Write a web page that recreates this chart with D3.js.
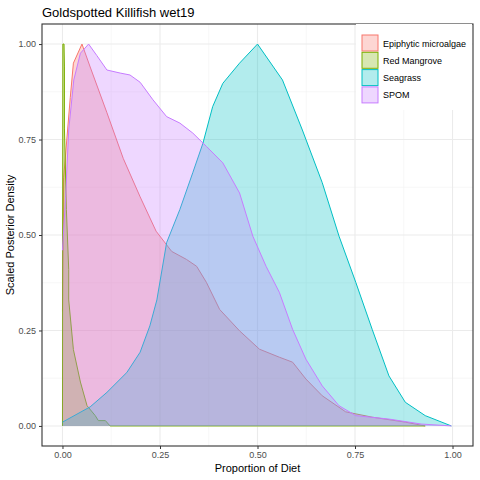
<!DOCTYPE html>
<html><head><meta charset="utf-8">
<script src="https://cdn.jsdelivr.net/npm/d3@7.9.0/dist/d3.min.js"></script>
<style>body{margin:0;background:#fff}text{font-family:"Liberation Sans",Arial,sans-serif}</style>
</head><body><svg id="chart" width="480" height="480"></svg>
<script>
// density curves: [proportion, scaled density]
const epiphytic = [[0,0.3],[0.003,0.65],[0.02,0.86],[0.028,0.95],[0.05,1.0],[0.071,0.94],[0.114,0.82],[0.156,0.70],[0.199,0.60],[0.24,0.51],[0.28,0.457],[0.318,0.436],[0.344,0.418],[0.369,0.376],[0.403,0.305],[0.454,0.249],[0.505,0.201],[0.556,0.18],[0.59,0.167],[0.624,0.123],[0.666,0.079],[0.726,0.037],[0.794,0.023],[0.879,0.01],[0.93,0]];
const redMangrove = [[0,0],[0.001,1.0],[0.004,1.0],[0.005,0.94],[0.005,0.78],[0.01,0.567],[0.016,0.41],[0.016,0.33],[0.028,0.2],[0.046,0.115],[0.063,0.053],[0.084,0.027],[0.092,0.014],[0.11,0.014],[0.122,0],[0.93,0]];
const seagrass = [[0,0.01],[0.071,0.05],[0.114,0.088],[0.165,0.14],[0.199,0.193],[0.224,0.262],[0.242,0.33],[0.267,0.48],[0.301,0.567],[0.334,0.663],[0.36,0.74],[0.385,0.836],[0.411,0.897],[0.454,0.95],[0.5,1.0],[0.564,0.906],[0.615,0.775],[0.666,0.637],[0.709,0.497],[0.752,0.376],[0.794,0.253],[0.837,0.131],[0.879,0.062],[0.93,0.027],[0.997,0]];
const spom = [[0,0.46],[0.008,0.60],[0.016,0.775],[0.029,0.906],[0.046,0.976],[0.067,1.0],[0.088,0.97],[0.114,0.932],[0.148,0.924],[0.173,0.919],[0.199,0.90],[0.232,0.854],[0.267,0.81],[0.301,0.793],[0.334,0.767],[0.369,0.732],[0.411,0.689],[0.454,0.61],[0.488,0.497],[0.522,0.418],[0.556,0.35],[0.59,0.253],[0.624,0.175],[0.666,0.105],[0.709,0.053],[0.752,0.027],[0.837,0.018],[0.92,0.005],[0.997,0]];
const sources = ["Epiphytic microalgae","Red Mangrove","Seagrass","SPOM"];
const colors = ["#F8766D","#7CAE00","#00BFC4","#C77CFF"];
const series = [epiphytic, redMangrove, seagrass, spom];
const ticks = [0,0.25,0.5,0.75,1];

const svg = d3.select('#chart');
const L = 42, T = 24, R = 473, B = 446;
const x = d3.scaleLinear().domain([-0.0525, 1.0525]).range([L, R]);
const y = d3.scaleLinear().domain([-0.0525, 1.0525]).range([B, T]);

// grid
const minor = [-0.125,0.125,0.375,0.625,0.875,1.125].filter(v => v > -0.0525 && v < 1.0525);
minor.forEach(v => {
  svg.append('line').attr('x1', x(v)).attr('x2', x(v)).attr('y1', T).attr('y2', B).attr('stroke', '#F2F2F2').attr('stroke-width', 0.6);
  svg.append('line').attr('y1', y(v)).attr('y2', y(v)).attr('x1', L).attr('x2', R).attr('stroke', '#F2F2F2').attr('stroke-width', 0.6);
});
ticks.forEach(v => {
  svg.append('line').attr('x1', x(v)).attr('x2', x(v)).attr('y1', T).attr('y2', B).attr('stroke', '#EBEBEB').attr('stroke-width', 1.1);
  svg.append('line').attr('y1', y(v)).attr('y2', y(v)).attr('x1', L).attr('x2', R).attr('stroke', '#EBEBEB').attr('stroke-width', 1.1);
});

const area = d3.area().x(d => x(d[0])).y0(y(0)).y1(d => y(d[1]));
const line = d3.line().x(d => x(d[0])).y(d => y(d[1]));
series.forEach((s, i) => {
  svg.append('path').attr('d', area(s)).attr('fill', colors[i]).attr('fill-opacity', 0.3);
  svg.append('path').attr('d', line(s)).attr('fill', 'none').attr('stroke', colors[i]).attr('stroke-width', 1);
});

svg.append('rect').attr('x', L).attr('y', T).attr('width', R - L).attr('height', B - T)
  .attr('fill', 'none').attr('stroke', '#333333').attr('stroke-width', 1.1);

// axes
const fmt = d3.format('.2f');
const xa = svg.append('g').attr('transform', `translate(0,${B})`)
  .call(d3.axisBottom(x).tickValues(ticks).tickFormat(fmt).tickSize(3));
const ya = svg.append('g').attr('transform', `translate(${L},0)`)
  .call(d3.axisLeft(y).tickValues(ticks).tickFormat(fmt).tickSize(3));
[xa, ya].forEach(g => {
  g.select('.domain').remove();
  g.selectAll('line').attr('stroke', '#333333');
  g.selectAll('text').attr('fill', '#4D4D4D').style('font-size', '9px');
});

svg.append('text').attr('x', (L + R) / 2).attr('y', 472).attr('text-anchor', 'middle').style('font-size', '11px').text('Proportion of Diet');
svg.append('text').attr('transform', `translate(14,${(T + B) / 2}) rotate(-90)`).attr('text-anchor', 'middle').style('font-size', '11px').text('Scaled Posterior Density');
svg.append('text').attr('x', L).attr('y', 17).style('font-size', '13px').text('Goldspotted Killifish wet19');

// legend
svg.append('rect').attr('x', 356).attr('y', 24).attr('width', 116).attr('height', 86).attr('fill', '#fff');
sources.forEach((s, i) => {
  const yy = 35 + i * 17.3;
  svg.append('rect').attr('x', 362).attr('y', yy).attr('width', 16).attr('height', 16)
    .attr('fill', colors[i]).attr('fill-opacity', 0.3).attr('stroke', colors[i]).attr('stroke-width', 1);
  svg.append('text').attr('x', 383).attr('y', yy + 11.5).style('font-size', '9px').text(s);
});
</script></body></html>
